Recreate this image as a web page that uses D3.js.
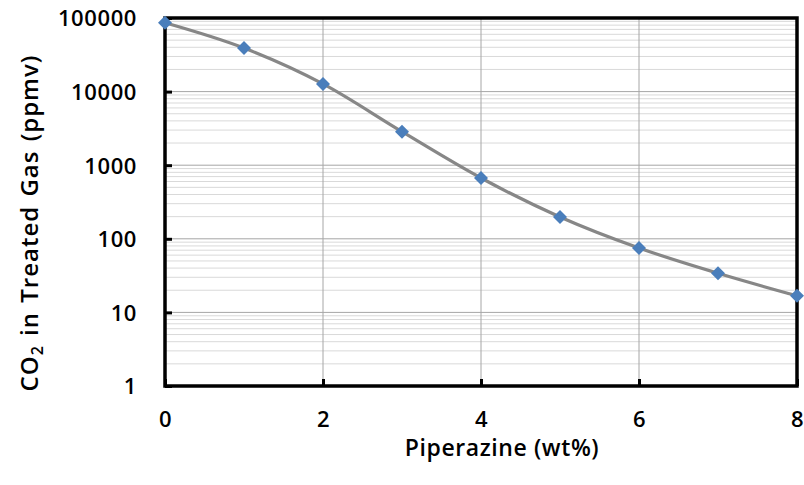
<!DOCTYPE html>
<html>
<head>
<meta charset="utf-8">
<script src="https://cdn.jsdelivr.net/npm/d3@7"></script>
<style>
  body { margin: 0; background: #fff; }
  text { font-family: "Open Sans", sans-serif; fill: #000; }
</style>
</head>
<body>
<section></section>
<script>
// data
var piperazine = [0, 1, 2, 3, 4, 5, 6, 7, 8];
var co2ppmv = [86000, 39000, 12700, 2850, 670, 198, 75, 34, 16.8];
var xTicks = [0, 2, 4, 6, 8];
var yTicks = [1, 10, 100, 1000, 10000, 100000];

// set the dimensions and margins of the chart
var margin = {top: 18, right: 7, bottom: 99, left: 165},
  width = 804 - margin.left - margin.right,
  height = 485 - margin.top - margin.bottom;

var svg = d3.select("section").append("svg")
      .attr("width", 804)
      .attr("height", 485),
    g = svg.append("g")
      .attr("transform", "translate(" + margin.left + "," + margin.top + ")");

var x = d3.scaleLinear().domain([0, 8]).range([0, width]);
var y = d3.scaleLog().domain([1, 100000]).range([height, 0]);

// minor grid lines (2..9 in each decade)
var minor = [];
yTicks.slice(0, -1).forEach(function(d) {
  for (var k = 2; k < 10; k++) minor.push(d * k);
});

g.append("g").selectAll("line")
  .data(minor)
  .enter().append("line")
  .attr("x1", 0).attr("x2", width)
  .attr("y1", function(d) { return y(d); })
  .attr("y2", function(d) { return y(d); })
  .attr("stroke", "#d9d9d9")
  .attr("stroke-width", 1);

// major grid lines
g.append("g").selectAll("line")
  .data(yTicks)
  .enter().append("line")
  .attr("x1", 0).attr("x2", width)
  .attr("y1", function(d) { return y(d); })
  .attr("y2", function(d) { return y(d); })
  .attr("stroke", "#a6a6a6")
  .attr("stroke-width", 1);

g.append("g").selectAll("line")
  .data(xTicks)
  .enter().append("line")
  .attr("y1", 0).attr("y2", height)
  .attr("x1", function(d) { return x(d); })
  .attr("x2", function(d) { return x(d); })
  .attr("stroke", "#a6a6a6")
  .attr("stroke-width", 1);

// axes with inward ticks
var xAxis = g.append("g")
  .attr("transform", "translate(0," + height + ")")
  .call(d3.axisBottom(x).tickValues(xTicks).tickSize(-7).tickPadding(25).tickFormat(d3.format("d")));

var yAxis = g.append("g")
  .call(d3.axisLeft(y).tickValues(yTicks).tickSize(-7).tickPadding(28).tickFormat(d3.format("d")));

[xAxis, yAxis].forEach(function(a) {
  a.select(".domain").remove();
  a.selectAll(".tick line").attr("stroke", "#000").attr("stroke-width", 3);
  a.selectAll(".tick text")
    .style("font-family", "'Open Sans', sans-serif")
    .style("font-size", "22px")
    .style("font-weight", 600)
    .style("letter-spacing", "0.6px")
    .attr("fill", "#000");
});
yAxis.selectAll(".tick text").attr("dy", "0.36em");
xAxis.selectAll(".tick text").attr("dy", "0.71em");

// frame
g.append("rect")
  .attr("width", width)
  .attr("height", height)
  .attr("fill", "none")
  .attr("stroke", "#000")
  .attr("stroke-width", 3.5);

// smoothed line
var line = d3.line()
  .x(function(d, i) { return x(piperazine[i]); })
  .y(function(d) { return y(d); })
  .curve(d3.curveCatmullRom.alpha(0));

g.append("path")
  .datum(co2ppmv)
  .attr("d", line)
  .attr("fill", "none")
  .attr("stroke", "#878787")
  .attr("stroke-width", 3.2);

// diamond markers
g.selectAll(".pt")
  .data(co2ppmv)
  .enter().append("path")
  .attr("class", "pt")
  .attr("d", "M0,-7L7,0L0,7L-7,0Z")
  .attr("transform", function(d, i) {
    return "translate(" + x(piperazine[i]) + "," + y(d) + ")"; })
  .attr("fill", "#4a7ebb");

// axis titles
svg.append("text")
  .attr("x", 502)
  .attr("y", 456)
  .attr("text-anchor", "middle")
  .style("font-size", "23px")
  .style("font-weight", 600)
  .style("letter-spacing", "0.6px")
  .text("Piperazine (wt%)");

var yt = svg.append("text")
  .attr("transform", "translate(38,223) rotate(-90)")
  .attr("text-anchor", "middle")
  .style("font-size", "24px")
  .style("font-weight", 600)
  .style("letter-spacing", "1px")
  .style("word-spacing", "2px");
yt.append("tspan").text("CO");
yt.append("tspan").attr("dy", 5).style("font-size", "16px").text("2");
yt.append("tspan").attr("dy", -5).text(" in Treated Gas (ppmv)");
</script>
</body>
</html>
